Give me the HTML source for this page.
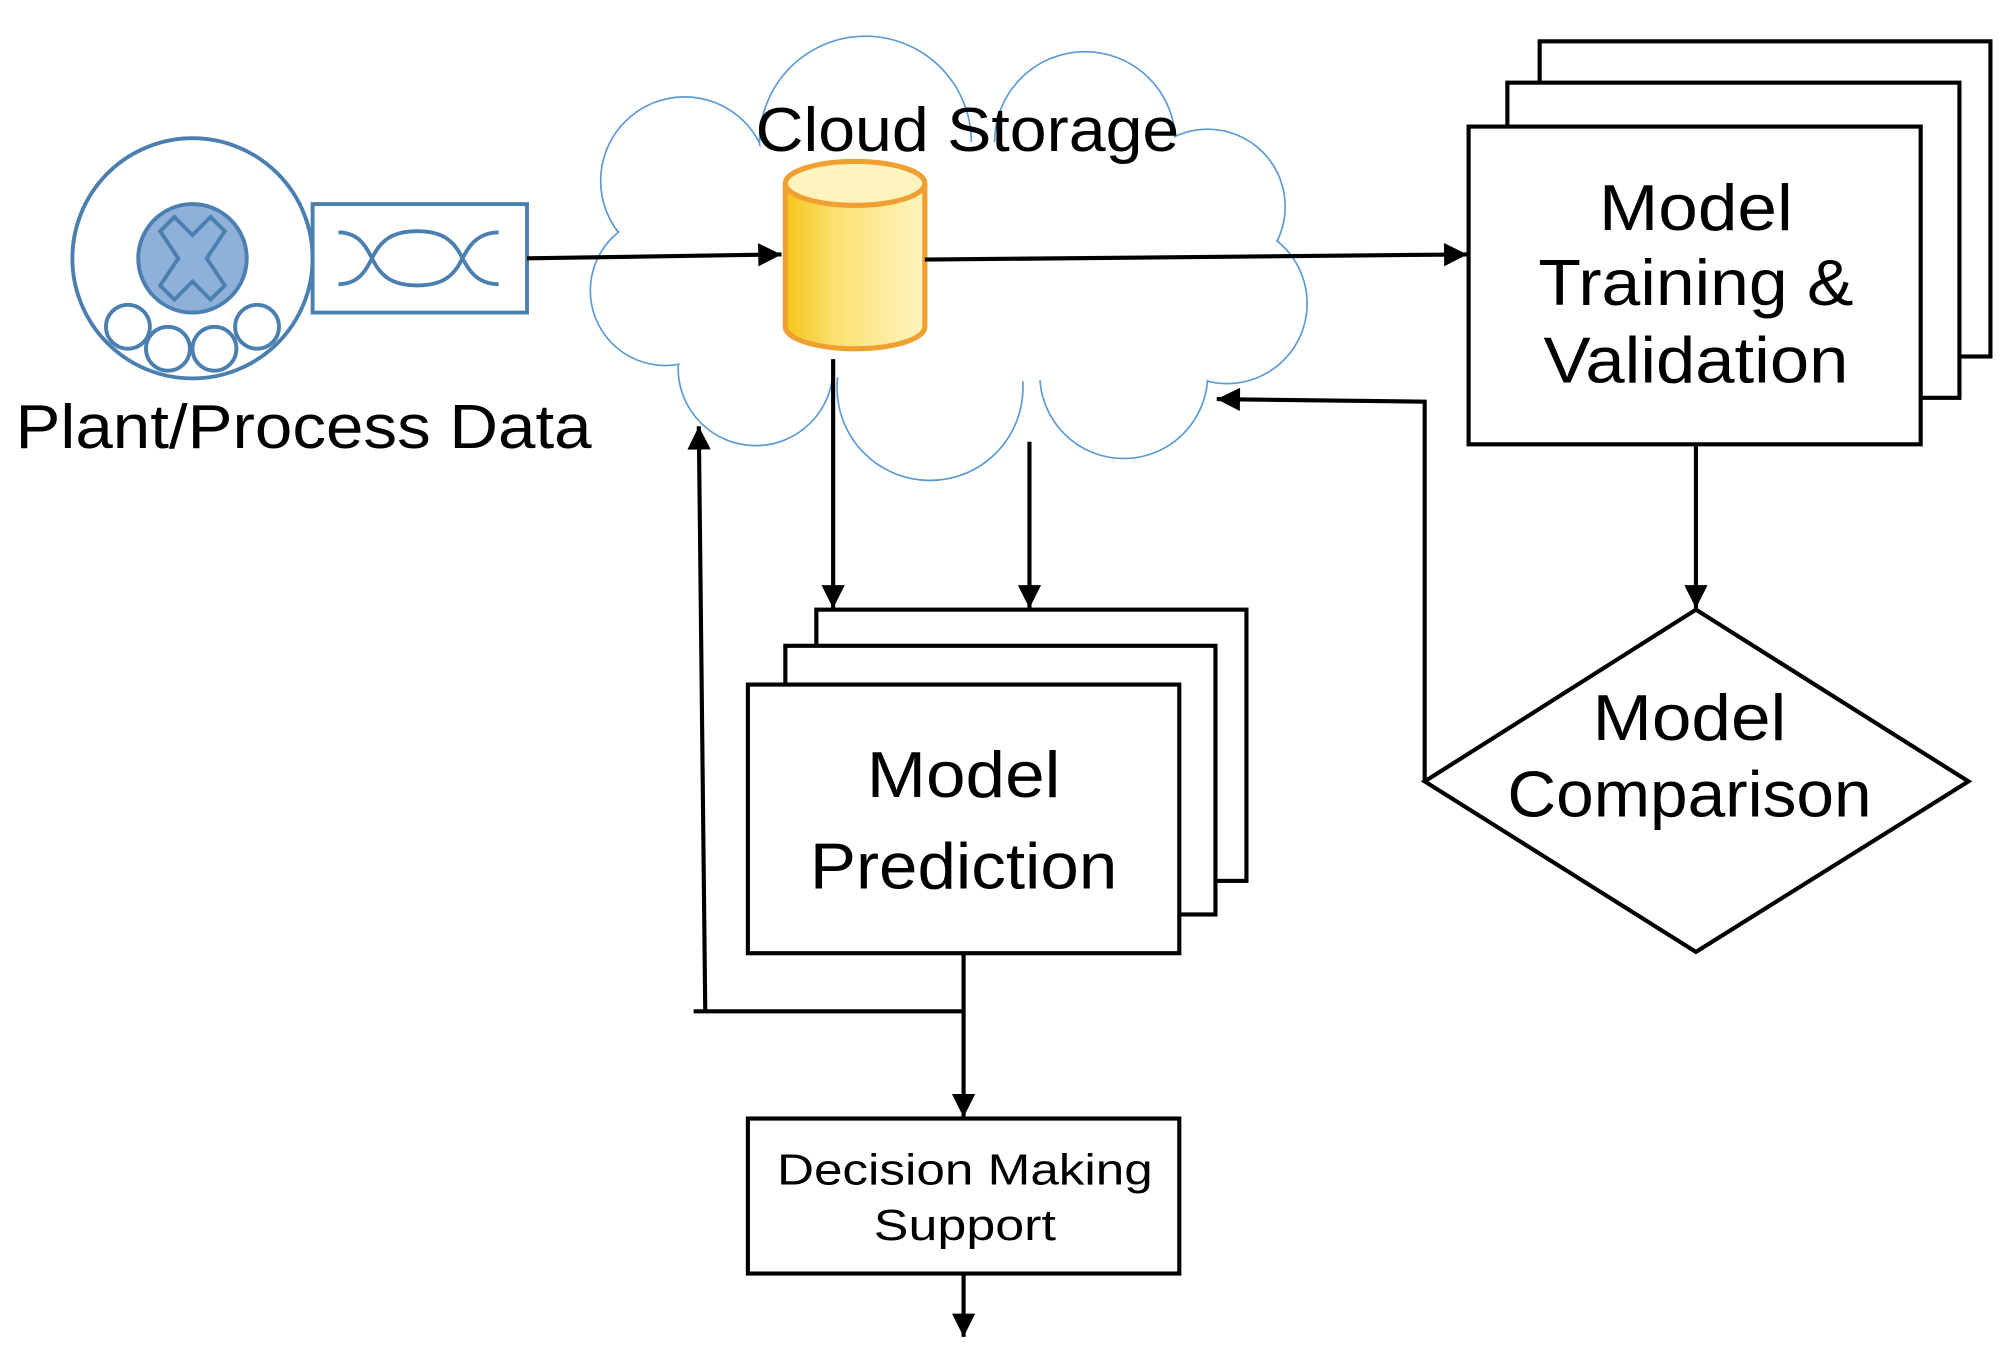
<!DOCTYPE html>
<html><head><meta charset="utf-8"><style>html,body{margin:0;padding:0;background:#fff}svg{display:block}</style></head>
<body>
<svg width="2015" height="1350" viewBox="0 0 1560 1045.2" xmlns="http://www.w3.org/2000/svg" font-family="'Liberation Sans', sans-serif">
<defs>
<linearGradient id="cy" x1="0" x2="1" y1="0" y2="0">
<stop offset="0" stop-color="#f5c518"/><stop offset="0.35" stop-color="#fbe070"/><stop offset="1" stop-color="#fff5c0"/>
</linearGradient>
<marker id="ar2" viewBox="0 0 10 10" refX="10" refY="5" markerWidth="22" markerHeight="18" markerUnits="userSpaceOnUse" orient="auto">
<path d="M0,0 L10,5 L0,10 z" fill="#000"/></marker>
</defs>
<rect width="1560" height="1045.2" fill="#fff"/>

<!-- cloud -->
<g stroke="#5b9bd5" stroke-width="1.3" fill="#fff">
<circle cx="530" cy="140" r="65"/><circle cx="670" cy="110" r="82"/><circle cx="840" cy="110" r="70"/>
<circle cx="935" cy="160" r="60"/><circle cx="950" cy="235" r="62"/><circle cx="870" cy="290" r="65"/>
<circle cx="720" cy="300" r="72"/><circle cx="585" cy="285" r="60"/><circle cx="515" cy="225" r="58"/>
</g>
<g fill="#fff">
<circle cx="530" cy="140" r="64"/><circle cx="670" cy="110" r="81"/><circle cx="840" cy="110" r="69"/>
<circle cx="935" cy="160" r="59"/><circle cx="950" cy="235" r="61"/><circle cx="870" cy="290" r="64"/>
<circle cx="720" cy="300" r="71"/><circle cx="585" cy="285" r="59"/><circle cx="515" cy="225" r="57"/>
<polygon points="530,140 670,110 840,110 935,160 950,235 870,290 720,300 585,285 515,225"/>
</g>
<text x="585" y="117" font-size="48" textLength="328" lengthAdjust="spacingAndGlyphs">Cloud Storage</text>

<!-- cylinder -->
<path d="M608,142 L608,253 A54,17 0 0 0 716,253 L716,142" fill="url(#cy)" stroke="#f0a030" stroke-width="4"/>
<ellipse cx="662" cy="142" rx="54" ry="17" fill="#fff3c0" stroke="#f0a030" stroke-width="4"/>

<!-- plant icon -->
<g stroke="#4a7fb0" stroke-width="3" fill="none">
<circle cx="149" cy="200" r="93"/>
<circle cx="149" cy="200" r="42" fill="#8eb0d9"/>
<path d="M149,182 L163,168 L174,179 L160,200 L174,221 L163,232 L149,218 L135,232 L124,221 L138,200 L124,179 L135,168 Z"/>
<circle cx="99" cy="253" r="17" fill="#fff"/><circle cx="199" cy="253" r="17" fill="#fff"/>
<circle cx="130" cy="270" r="17" fill="#fff"/><circle cx="166" cy="270" r="17" fill="#fff"/>
<rect x="242" y="158" width="166" height="84" fill="#fff"/>
<path d="M262,180 C280,180 285,195 288,200 C295,215 305,221 323,221 C341,221 351,215 358,200 C361,195 367,180 386,180"/>
<path d="M262,220 C280,220 285,205 288,200 C295,185 305,179 323,179 C341,179 351,185 358,200 C361,205 367,220 386,220"/>
</g>
<text x="12" y="347" font-size="48" textLength="446" lengthAdjust="spacingAndGlyphs">Plant/Process Data</text>

<!-- connectors -->
<g stroke="#000" stroke-width="3.2" fill="none">
<line x1="408" y1="200" x2="605" y2="197" marker-end="url(#ar2)"/>
<line x1="716" y1="201" x2="1136" y2="197" marker-end="url(#ar2)"/>
<line x1="1313" y1="344" x2="1313" y2="471" marker-end="url(#ar2)"/>
<polyline points="1103,605 1103,311 942,309" marker-end="url(#ar2)"/>
<line x1="645" y1="278" x2="645" y2="471" marker-end="url(#ar2)"/>
<line x1="797" y1="342" x2="797" y2="471" marker-end="url(#ar2)"/>
<line x1="746" y1="738" x2="746" y2="865" marker-end="url(#ar2)"/>
<line x1="537" y1="783" x2="746" y2="783"/>
<line x1="546" y1="783" x2="541" y2="330" marker-end="url(#ar2)"/>
<line x1="746" y1="986" x2="746" y2="1035" marker-end="url(#ar2)"/>
</g>

<!-- training stack -->
<g stroke="#000" stroke-width="3.2" fill="#fff">
<rect x="1192" y="32" width="349" height="244"/>
<rect x="1167" y="64" width="350" height="244"/>
<rect x="1137" y="98" width="350" height="246"/>
</g>
<g font-size="50" text-anchor="middle">
<text x="1313" y="178" textLength="150" lengthAdjust="spacingAndGlyphs">Model</text>
<text x="1313" y="236" textLength="244" lengthAdjust="spacingAndGlyphs">Training &amp;</text>
<text x="1313" y="296" textLength="236" lengthAdjust="spacingAndGlyphs">Validation</text>
</g>

<!-- diamond -->
<polygon points="1313,472 1524,605 1313,737 1103,605" fill="#fff" stroke="#000" stroke-width="3.2"/>
<g font-size="50" text-anchor="middle">
<text x="1308" y="573" textLength="150" lengthAdjust="spacingAndGlyphs">Model</text>
<text x="1308" y="632" textLength="282" lengthAdjust="spacingAndGlyphs">Comparison</text>
</g>

<!-- prediction stack -->
<g stroke="#000" stroke-width="3.2" fill="#fff">
<rect x="632" y="472" width="333" height="210"/>
<rect x="608" y="500" width="333" height="208"/>
<rect x="579" y="530" width="334" height="208"/>
</g>
<g font-size="50" text-anchor="middle">
<text x="746" y="617" textLength="150" lengthAdjust="spacingAndGlyphs">Model</text>
<text x="746" y="688" textLength="238" lengthAdjust="spacingAndGlyphs">Prediction</text>
</g>

<!-- decision -->
<rect x="579" y="866" width="334" height="120" fill="#fff" stroke="#000" stroke-width="3.2"/>
<g font-size="34" text-anchor="middle">
<text x="747" y="917" textLength="291" lengthAdjust="spacingAndGlyphs">Decision Making</text>
<text x="747" y="960" textLength="141" lengthAdjust="spacingAndGlyphs">Support</text>
</g>
</svg>
</body></html>
